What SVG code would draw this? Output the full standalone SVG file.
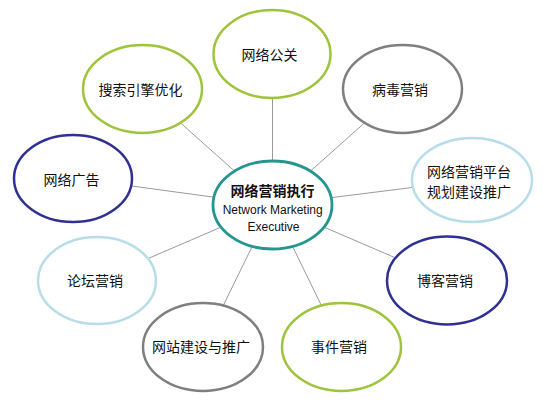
<svg xmlns="http://www.w3.org/2000/svg" width="549" height="408" viewBox="0 0 549 408">
<style>
.n{fill:#ffffff;stroke-width:2.5}
.g{stroke:#9dc43a}
.b{stroke:#2e3192}
.gr{stroke:#7f7f7f}
.lb{stroke:#b7dde8}
.c{stroke:#23968f;stroke-width:2.8;fill:#ffffff}
.t{font-family:"Noto Sans CJK SC","Liberation Sans",sans-serif;font-size:14px;fill:#111111;text-anchor:middle}
.e{font-family:"Liberation Sans",Arial,sans-serif;font-size:12px;fill:#111111;text-anchor:middle}
#connectors line{stroke:#9a9a9a;stroke-width:1}
</style>
<rect width="549" height="408" fill="#ffffff"/>
<g id="connectors">
<line x1="272.5" y1="161" x2="272.5" y2="98"/>
<line x1="310.5" y1="171.1" x2="364.5" y2="122.9"/>
<line x1="331.2" y1="197.7" x2="412.9" y2="187.4"/>
<line x1="323.9" y1="227.1" x2="395.6" y2="257.9"/>
<line x1="292.6" y1="246.4" x2="321.4" y2="305.6"/>
<line x1="252.2" y1="246.4" x2="223.2" y2="305.6"/>
<line x1="221.1" y1="227.1" x2="148.4" y2="258.4"/>
<line x1="213.9" y1="197.2" x2="131.6" y2="186"/>
<line x1="234.5" y1="171.1" x2="180.5" y2="122.9"/>
</g>
<g id="center">
<ellipse class="c" cx="272.5" cy="205" rx="59.5" ry="44"/>
<text class="t" x="272.5" y="195.5" style="font-weight:bold">网络营销执行</text>
<text class="e" x="272.7" y="214">Network Marketing</text>
<text class="e" x="273.5" y="231">Executive</text>
</g>
<g id="n-gongguan">
<ellipse class="n g" cx="272" cy="54" rx="58.5" ry="44"/>
<text class="t" x="269.5" y="60">网络公关</text>
</g>
<g id="n-bingdu">
<ellipse class="n gr" cx="402.5" cy="89" rx="59.5" ry="44"/>
<text class="t" x="400" y="95">病毒营销</text>
</g>
<g id="n-pingtai">
<ellipse class="n lb" cx="472" cy="180" rx="60" ry="42"/>
<text class="t" x="469" y="177">网络营销平台</text>
<text class="t" x="469" y="197">规划建设推广</text>
</g>
<g id="n-boke">
<ellipse class="n b" cx="447" cy="280.5" rx="60" ry="44"/>
<text class="t" x="445" y="286">博客营销</text>
</g>
<g id="n-shijian">
<ellipse class="n g" cx="341.5" cy="347" rx="59.5" ry="44"/>
<text class="t" x="339" y="352">事件营销</text>
</g>
<g id="n-wangzhan">
<ellipse class="n gr" cx="203" cy="347" rx="60" ry="44"/>
<text class="t" x="201" y="352">网站建设与推广</text>
</g>
<g id="n-luntan">
<ellipse class="n lb" cx="97" cy="280.5" rx="59" ry="43.5"/>
<text class="t" x="95" y="286">论坛营销</text>
</g>
<g id="n-guanggao">
<ellipse class="n b" cx="73" cy="178.5" rx="59" ry="43.5"/>
<text class="t" x="71.5" y="184.5">网络广告</text>
</g>
<g id="n-sousuo">
<ellipse class="n g" cx="142.5" cy="89" rx="59.5" ry="44"/>
<text class="t" x="140.5" y="95">搜索引擎优化</text>
</g>
</svg>
